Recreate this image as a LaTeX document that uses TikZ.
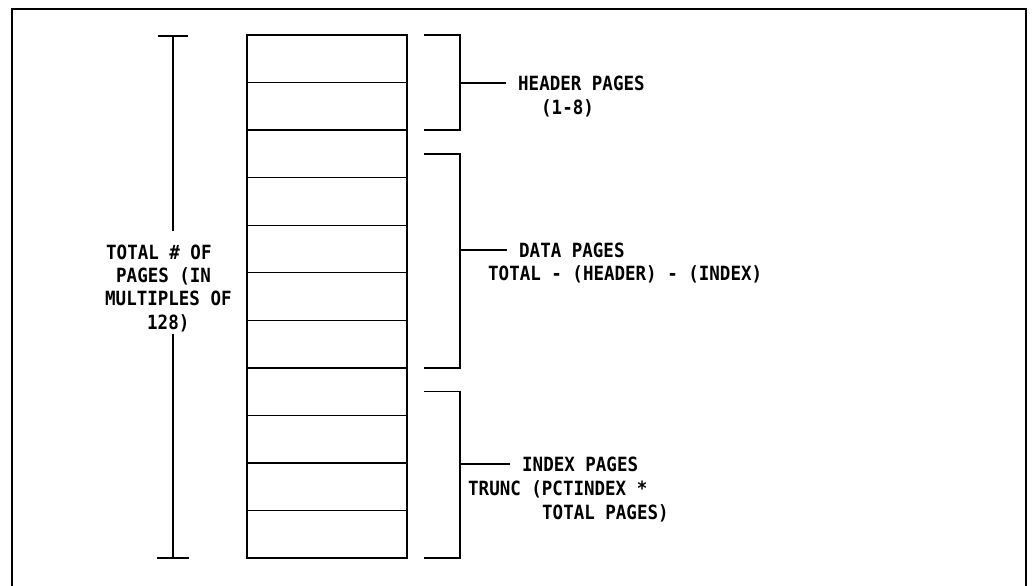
\documentclass[tikz,border=0pt]{standalone}
\usepackage{fontspec}
\setmonofont{DejaVu Sans Mono}
\usetikzlibrary{calc}

\tikzset{
  pagebox/.style={draw,line width=1.3pt,minimum width=160pt,minimum height=47.55pt,
                  inner sep=0pt,outer sep=0pt},
  brk/.style={line width=1.3pt},
  lbl/.style={font=\ttfamily\bfseries\fontsize{17.5}{23.4}\selectfont,
              inner sep=0pt,anchor=base west,yscale=1.12}
}

\begin{document}
\begin{tikzpicture}[x=1pt,y=-1pt]
  \useasboundingbox (0,0) rectangle (1033,586);
  \draw[line width=2pt] (12,586) -- (12,9) -- (1026,9) -- (1026,586);

  \foreach \i in {1,...,11}
    \node[pagebox] (p\i) at (327,{35+47.55*(\i-0.5)}) {};

  \coordinate (rtop) at (173,36);
  \coordinate (rbot) at (173,558);
  \draw[brk] ($(rtop)+(-15,0)$) -- ($(rtop)+(15,0)$);
  \draw[brk] ($(rbot)+(-16,0)$) -- ($(rbot)+(16,0)$);

  \node[lbl] (tot1) at (106,259) {TOTAL \# OF};
  \node[lbl] (tot2) at ($(tot1.base west)+(10,23.4)$) {PAGES (IN};
  \node[lbl] (tot3) at ($(tot1.base west)+(-1,46.8)$) {MULTIPLES OF};
  \node[lbl] (tot4) at ($(tot1.base west)+(41,70.2)$) {128)};
  \draw[brk] (rtop) -- ($(tot1.north -| rtop)+(0,-13)$);
  \draw[brk] ($(tot4.south -| rtop)+(0,2)$) -- (rbot);

  \draw[brk] ($(p1.north east)+(17,0)$) -- ++(36,0) coordinate (hb)
    |- ($(p2.south east)+(17,0)$);
  \draw[brk] ($(p3.east)+(17,0)$) -- ++(36,0) coordinate (db)
    |- ($(p7.south east)+(17,0)$);
  \draw[brk] ($(p8.east)+(17,0)$) -- ++(36,0) coordinate (ib)
    |- ($(p11.south east)+(17,0)$);

  \node[lbl] (hdrA) at (518,90) {HEADER PAGES};
  \node[lbl] (hdrB) at ($(hdrA.base west)+(23,24)$) {(1-8)};
  \node[lbl] (datA) at (519,257) {DATA PAGES};
  \node[lbl] (datB) at ($(datA.base west)+(-31,23.4)$) {TOTAL - (HEADER) - (INDEX)};
  \node[lbl] (idxA) at (522,471) {INDEX PAGES};
  \node[lbl] (idxB) at ($(idxA.base west)+(-54,24)$) {TRUNC (PCTINDEX *};
  \node[lbl] (idxC) at ($(idxA.base west)+(20,48)$) {TOTAL PAGES)};

  \draw[brk] (hb |- hdrA.west) -- ($(hdrA.west)+(-12,0)$);
  \draw[brk] (db |- datA.west) -- ($(datA.west)+(-12,0)$);
  \draw[brk] (ib |- idxA.west) -- ($(idxA.west)+(-12,0)$);
\end{tikzpicture}
\end{document}
